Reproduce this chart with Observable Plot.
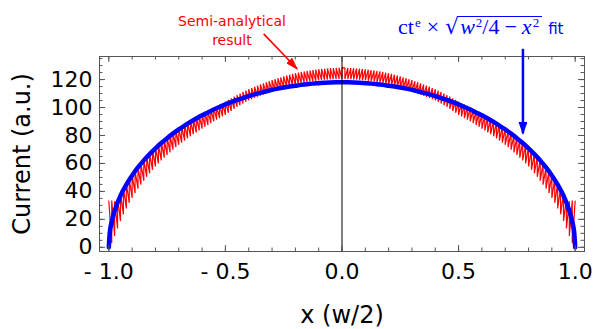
<!DOCTYPE html>
<html><head><meta charset="utf-8">
<script src="https://cdn.jsdelivr.net/npm/d3@7"></script>
<script src="https://cdn.jsdelivr.net/npm/@observablehq/plot@0.6"></script>
<style>
html,body{margin:0;padding:0;background:#fff;}
#wrap{position:relative;width:596px;height:329px;overflow:hidden;background:#fff;}
#fit{position:absolute;left:398px;top:16px;color:#0000ff;font-family:"Liberation Serif",serif;font-size:22px;line-height:22px;white-space:nowrap;}
.sup{font-size:13px;position:relative;top:-7.5px;margin-left:1px;}
.times{margin:0 6px;}
.rad{font-family:"DejaVu Sans";font-size:22px;}
.radicand{display:inline-block;line-height:20.6px;border-top:1.4px solid #0000ff;padding:0 3px 0 1px;}
.minus{margin:0 5px;}
.fitword{font-family:"DejaVu Sans";font-size:15px;margin-left:6px;}
</style></head>
<body><div id="wrap"><div id="fit">ct<span class="sup">e</span><span class="times">×</span><span class="rad">√</span><span class="radicand"><i>w</i><span class="sup">2</span>/4<span class="minus">−</span><i>x</i><span class="sup">2</span></span><span class="fitword">fit</span></div></div>
<script>
// ---- fit curve (blue) ----
const blueX = [-1,-0.995,-0.9875,-0.975,-0.95,-0.925,-0.9,-0.875,-0.85,-0.825,-0.8,-0.775,-0.75,-0.725,-0.7,-0.675,-0.65,-0.625,-0.6,-0.575,-0.55,-0.525,-0.5,-0.475,-0.45,-0.425,-0.4,-0.375,-0.35,-0.325,-0.3,-0.275,-0.25,-0.225,-0.2,-0.175,-0.15,-0.125,-0.1,-0.075,-0.05,-0.025,0,
  0.025,0.05,0.075,0.1,0.125,0.15,0.175,0.2,0.225,0.25,0.275,0.3,0.325,0.35,0.375,0.4,0.425,0.45,0.475,0.5,0.525,0.55,0.575,0.6,0.625,0.65,0.675,0.7,0.725,0.75,0.775,0.8,0.825,0.85,0.875,0.9,0.925,0.95,0.975,0.9875,0.995,1];
const blueY = [0,11.8,18.6,26.2,36.9,44.8,51.4,57.1,62.2,66.7,70.8,74.6,78.1,81.3,84.3,87.1,89.7,92.1,94.4,96.5,98.6,100.4,102.2,103.8,105.4,106.8,108.2,109.4,110.5,111.6,112.6,113.5,114.3,115.0,115.6,116.2,116.7,117.1,117.4,117.7,117.9,118.0,118.0,
  118.0,117.9,117.7,117.4,117.1,116.7,116.2,115.6,115.0,114.3,113.5,112.6,111.6,110.5,109.4,108.2,106.8,105.4,103.8,102.2,100.4,98.6,96.5,94.4,92.1,89.7,87.1,84.3,81.3,78.1,74.6,70.8,66.7,62.2,57.1,51.4,44.8,36.9,26.2,18.6,11.8,0];

// ---- semi-analytical result (red sawtooth): tooth position, tooth top, tooth bottom ----
const redX = [
  -1,-0.9875,-0.975,-0.9625,-0.95,-0.9375,-0.925,-0.9125,-0.9,-0.8875,
  -0.875,-0.8625,-0.85,-0.8375,-0.825,-0.8125,-0.8,-0.7875,-0.775,-0.7625,
  -0.75,-0.7375,-0.725,-0.7125,-0.7,-0.6875,-0.675,-0.6625,-0.65,-0.6375,
  -0.625,-0.6125,-0.6,-0.5875,-0.575,-0.5625,-0.55,-0.5375,-0.525,-0.5125,
  -0.5,-0.4875,-0.475,-0.4625,-0.45,-0.4375,-0.425,-0.4125,-0.4,-0.3875,
  -0.375,-0.3625,-0.35,-0.3375,-0.325,-0.3125,-0.3,-0.2875,-0.275,-0.2625,
  -0.25,-0.2375,-0.225,-0.2125,-0.2,-0.1875,-0.175,-0.1625,-0.15,-0.1375,
  -0.125,-0.1125,-0.1,-0.0875,-0.075,-0.0625,-0.05,-0.0375,-0.025,-0.0125,
  0,
  0.0125,0.025,0.0375,0.05,0.0625,0.075,0.0875,0.1,0.1125,0.125,
  0.1375,0.15,0.1625,0.175,0.1875,0.2,0.2125,0.225,0.2375,0.25,
  0.2625,0.275,0.2875,0.3,0.3125,0.325,0.3375,0.35,0.3625,0.375,
  0.3875,0.4,0.4125,0.425,0.4375,0.45,0.4625,0.475,0.4875,0.5,
  0.5125,0.525,0.5375,0.55,0.5625,0.575,0.5875,0.6,0.6125,0.625,
  0.6375,0.65,0.6625,0.675,0.6875,0.7,0.7125,0.725,0.7375,0.75,
  0.7625,0.775,0.7875,0.8,0.8125,0.825,0.8375,0.85,0.8625,0.875,
  0.8875,0.9,0.9125,0.925,0.9375,0.95,0.9625,0.975,0.9875,1];
const redTop = [
  33,33.5,33,35,38.4,42.3,45.8,49.0,51.9,54.9,
  57.6,60.2,62.7,65.0,67.2,69.3,71.3,73.3,75.2,77.0,
  78.8,80.5,82.2,83.7,85.3,86.7,88.1,89.4,90.7,91.9,
  93.1,94.3,95.4,96.6,97.8,98.9,100.1,101.1,102.2,103.2,
  104.2,105.4,106.6,107.8,108.9,110.0,111.1,112.1,113.2,114.0,
  114.9,115.7,116.5,117.3,118.1,118.8,119.6,120.3,121.0,121.6,
  122.3,122.9,123.5,124.1,124.6,125.0,125.4,125.8,126.2,126.5,
  126.8,127.1,127.4,127.6,127.8,128.0,128.1,128.2,128.3,128.4,
  128.5,
  128.4,128.3,128.2,128.1,128.0,127.8,127.6,127.4,127.1,126.8,
  126.5,126.2,125.8,125.4,125.0,124.6,124.1,123.5,122.9,122.3,
  121.6,121.0,120.3,119.6,118.8,118.1,117.3,116.5,115.7,114.9,
  114.0,113.2,112.1,111.1,110.0,108.9,107.8,106.6,105.4,104.2,
  103.2,102.2,101.1,100.1,98.9,97.8,96.6,95.4,94.3,93.1,
  91.9,90.7,89.4,88.1,86.7,85.3,83.7,82.2,80.5,78.8,
  77.0,75.2,73.3,71.3,69.3,67.2,65.0,62.7,60.2,57.6,
  54.9,51.9,49.0,45.8,42.3,38.4,35,33,33.5,33];
const redBottom = [
  33,3,8,13.5,18.9,23.6,27.8,31.8,35.4,38.8,
  41.9,44.8,47.7,50.4,52.9,55.4,57.8,60.0,62.1,64.1,
  66.1,67.9,69.8,71.6,73.3,74.9,76.4,78.0,79.4,80.9,
  82.2,83.6,84.9,86.2,87.5,88.8,90.1,91.3,92.4,93.6,
  94.7,96.2,97.6,99.0,100.4,101.6,102.8,104.0,105.2,106.0,
  106.9,107.7,108.5,109.3,110.1,110.8,111.6,112.3,113.0,113.6,
  114.3,114.9,115.5,116.1,116.6,117.0,117.4,117.8,118.2,118.5,
  118.8,119.1,119.4,119.6,119.8,120.0,120.1,120.2,120.3,120.4,
  120.5,
  120.4,120.3,120.2,120.1,120.0,119.8,119.6,119.4,119.1,118.8,
  118.5,118.2,117.8,117.4,117.0,116.6,116.1,115.5,114.9,114.3,
  113.6,113.0,112.3,111.6,110.8,110.1,109.3,108.5,107.7,106.9,
  106.0,105.2,104.0,102.8,101.6,100.4,99.0,97.6,96.2,94.7,
  93.6,92.4,91.3,90.1,88.8,87.5,86.2,84.9,83.6,82.2,
  80.9,79.4,78.0,76.4,74.9,73.3,71.6,69.8,67.9,66.1,
  64.1,62.1,60.0,57.8,55.4,52.9,50.4,47.7,44.8,41.9,
  38.8,35.4,31.8,27.8,23.6,18.9,13.5,8,3,33];

// ---- ticks ----
const xMajorTicks = [-1,-0.5,0,0.5,1];
const xTickLabels = ["- 1.0","- 0.5","0.0","0.5","1.0"];
const xMinorTicks = [-1,-0.9,-0.8,-0.7,-0.6,-0.5,-0.4,-0.3,-0.2,-0.1,0,0.1,0.2,0.3,0.4,0.5,0.6,0.7,0.8,0.9,1];
const yMajorTicks = [0,20,40,60,80,100,120];
const yTickLabels = ["0","20","40","60","80","100","120"];
const yMinorTicks = [0,5,10,15,20,25,30,35,40,45,50,55,60,65,70,75,80,85,90,95,100,105,110,115,120,125,130,135];
const zeroLine = [0];

// ---- annotations (data coordinates) ----
const redLabel = [{x: -0.472, text: "Semi-analytical\nresult"}];
const redArrow = [{x1: -0.336, y1: 152.7, x2: -0.1925, y2: 127.7}];
const blueArrow = [{x1: 0.776, y1: 142, x2: 0.776, y2: 81.5}];
const yTitle = ["Current (a.u.)"];
const xTitle = ["x (w/2)"];

const blueRows = blueX.map((x, i) => ({x, y: blueY[i]}));
const redRows = [];
const n = Math.min(redX.length, redTop.length, redBottom.length);
for (let i = 0; i < n; i++) {
  const x = redX[i];
  if (x <= 0) redRows.push({x, y: redBottom[i]}, {x, y: redTop[i]});
  else redRows.push({x, y: redTop[i]}, {x, y: redBottom[i]});
}

const W = 596, H = 329, mL = 99, mR = 12, mT = 56, mB = 78;
const fw = W - mL - mR, fh = H - mT - mB;
const frameColor = "#555";

const chart = Plot.plot({
  width: W, height: H,
  marginLeft: mL, marginRight: mR, marginTop: mT, marginBottom: mB,
  x: {domain: [-1.04, 1.04], label: null},
  y: {domain: [-3, 136.5], label: null},
  style: {fontFamily: "'DejaVu Sans', sans-serif", fontSize: "22px", background: "#fff", color: "#000", overflow: "visible"},
  marks: [
    Plot.line(redRows, {x: "x", y: "y", stroke: "#ff0000", strokeWidth: 1.2, strokeLinejoin: "miter"}),
    Plot.line(blueRows, {x: "x", y: "y", stroke: "#0000ff", strokeWidth: 4.5, curve: "catmull-rom"}),
    Plot.ruleX(zeroLine, {stroke: "#000", strokeWidth: 1}),
    Plot.frame({stroke: frameColor}),
    Plot.tickX(xMinorTicks, {x: d => d, insetTop: fh - 3.5, stroke: frameColor}),
    Plot.tickX(xMinorTicks, {x: d => d, insetBottom: fh - 3.5, stroke: frameColor}),
    Plot.tickX(xMajorTicks, {x: d => d, insetTop: fh - 6, stroke: frameColor}),
    Plot.tickX(xMajorTicks, {x: d => d, insetBottom: fh - 6, stroke: frameColor}),
    Plot.tickY(yMinorTicks, {y: d => d, insetRight: fw - 3.5, stroke: frameColor}),
    Plot.tickY(yMinorTicks, {y: d => d, insetLeft: fw - 3.5, stroke: frameColor}),
    Plot.tickY(yMajorTicks, {y: d => d, insetRight: fw - 6, stroke: frameColor}),
    Plot.tickY(yMajorTicks, {y: d => d, insetLeft: fw - 6, stroke: frameColor}),
    Plot.axisX(xMajorTicks, {anchor: "bottom", tickSize: 0, tickPadding: 12, fontSize: 22, label: null,
      tickFormat: d => xTickLabels[xMajorTicks.indexOf(d)]}),
    Plot.axisY(yMajorTicks, {anchor: "left", tickSize: 0, tickPadding: 7, fontSize: 22, label: null,
      tickFormat: d => yTickLabels[yMajorTicks.indexOf(d)]}),
    Plot.text(yTitle, {frameAnchor: "left", textAnchor: "middle", rotate: -90, dx: -77, fontSize: 24}),
    Plot.text(xTitle, {frameAnchor: "bottom", textAnchor: "middle", dy: 71, fontSize: 24}),
    Plot.text(redLabel, {x: "x", text: "text", frameAnchor: "top", dy: -44, lineAnchor: "top", fill: "#ff0000", fontSize: 14, lineHeight: 1.36}),
    Plot.link(redArrow, {x1: "x1", y1: "y1", x2: "x2", y2: "y2", stroke: "#ff0000", strokeWidth: 1.6, markerEnd: "arrow"}),
    Plot.link(blueArrow, {x1: "x1", y1: "y1", x2: "x2", y2: "y2", stroke: "#0000ff", strokeWidth: 2.5, markerEnd: "arrow"})
  ]
});

// filled arrowheads
d3.select(chart).selectAll("marker").each(function() {
  const m = d3.select(this);
  const c = m.attr("stroke") || "#000";
  const isBlue = /0000ff|blue/i.test(c);
  const L = 13, Wd = isBlue ? 9 : 8;
  m.attr("viewBox", `${-L} ${-Wd/2} ${L + 2} ${Wd}`)
   .attr("refX", -1.5).attr("refY", 0)
   .attr("markerUnits", "userSpaceOnUse")
   .attr("markerWidth", L + 2).attr("markerHeight", Wd)
   .attr("fill", c).attr("stroke", "none");
  m.selectAll("*").remove();
  m.append("path").attr("d", `M${-L},${-Wd/2}L0,0L${-L},${Wd/2}Z`);
});

document.getElementById("wrap").prepend(chart);
</script>
</body></html>
